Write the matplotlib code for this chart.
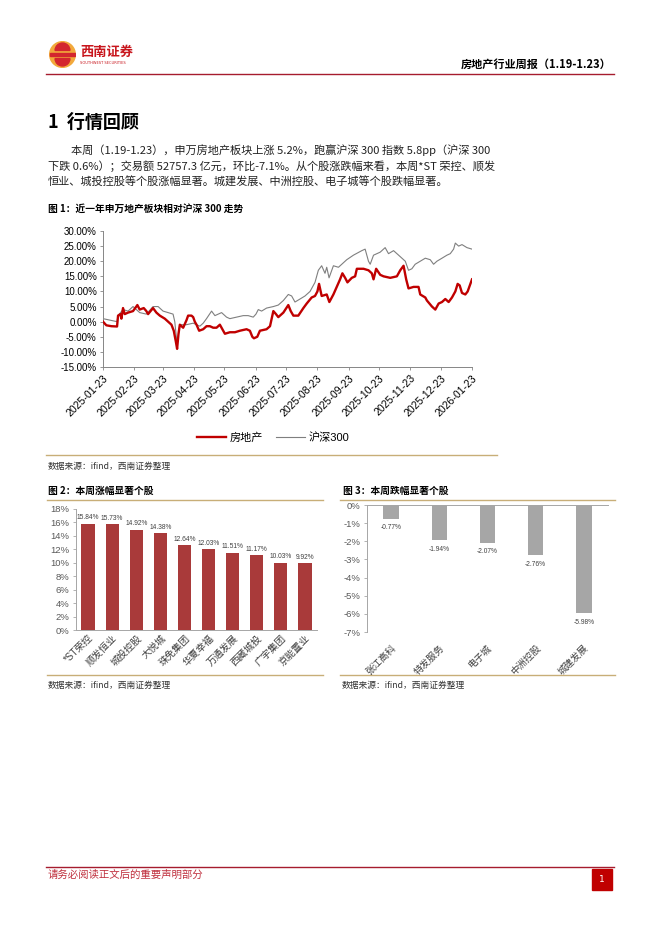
import numpy as np
import matplotlib
matplotlib.use("Agg")
import matplotlib.pyplot as plt
import matplotlib.transforms as mtrans
from matplotlib.lines import Line2D
from matplotlib.patches import Circle, Rectangle, Wedge

W, H = 662, 936

plt.rcParams['font.family'] = ['Noto Sans CJK SC', 'DejaVu Sans']
CHART_FONT = ['Liberation Sans', 'Noto Sans CJK SC']

# ---- data: figure 1 (cumulative change, %) ----
tick_dates = ['2025-01-23', '2025-02-23', '2025-03-23', '2025-04-23', '2025-05-23',
              '2025-06-23', '2025-07-23', '2025-08-23', '2025-09-23', '2025-10-23',
              '2025-11-23', '2025-12-23', '2026-01-23']

re_day = [0, 3.3, 8.3, 13.9, 14.9, 17.2, 18.2, 19.8, 21.5, 24.8, 29.7, 34.0, 36.3, 40.3,
          42.9, 44.6, 49.5, 52.8, 56.2, 61.1, 64.4, 67.7, 70.0, 72.0, 73.3, 74.7, 76.0,
          79.3, 82.6, 84.2, 87.5, 89.2, 90.8, 92.5, 95.1, 99.1, 102.4, 105.7, 109.0,
          112.3, 115.6, 118.9, 120.6, 125.5, 130.5, 135.4, 142.0, 145.3, 147.7, 149.3,
          152.6, 155.2, 161.8, 165.2, 168.5, 171.1, 173.4, 178.4, 183.3, 185.7, 188.3,
          193.2, 198.2, 201.5, 206.4, 209.7, 212.1, 213.7, 216.3, 221.3, 223.9, 227.9,
          231.2, 234.5, 236.8, 239.5, 241.8, 246.1, 249.4, 251.1, 257.7, 262.6, 265.9,
          267.6, 270.2, 274.2, 277.5, 284.1, 290.7, 294.0, 297.3, 299.9, 302.2, 307.2,
          312.1, 313.8, 318.8, 320.4, 325.4, 328.7, 332.0, 335.3, 338.6, 341.9, 345.2,
          348.5, 350.8, 352.8, 355.1, 358.4, 360.7, 365]
re_val = [0.0, -1.2, -1.5, -1.6, 2.0, 2.5, 1.0, 4.5, 2.5, 3.0, 3.5, 5.5, 4.0, 4.5,
          3.5, 2.5, 4.5, 3.0, 2.0, 1.0, 0.0, -1.0, -3.0, -6.5, -9.0, -4.0, -1.0,
          -2.0, 0.5, 2.0, 2.0, 1.5, 0.0, -1.0, -3.0, -2.5, -1.5, -1.5, -2.0,
          -2.0, -1.0, -3.0, -4.0, -3.5, -3.5, -3.0, -2.5, -3.0, -5.0, -5.5,
          -5.0, -3.0, -2.5, -1.5, 3.5, 2.5, 1.5, 3.0, 5.5, 3.5, 2.0,
          2.0, 4.5, 6.0, 8.0, 8.5, 10.0, 12.5, 8.5, 9.0, 6.5, 9.0,
          11.5, 14.0, 16.0, 14.5, 13.0, 14.5, 15.0, 17.5, 17.5, 17.0, 16.0,
          14.0, 17.5, 15.5, 15.0, 14.5, 15.0, 17.0, 18.5, 14.0, 11.0, 11.5,
          11.5, 9.0, 8.0, 7.0, 5.0, 4.0, 6.0, 6.5, 7.5, 6.5, 8.0,
          10.0, 12.5, 12.0, 9.5, 9.0, 10.0, 14.0]

hs_day = [0, 13.9, 14.9, 19.8, 24.8, 29.7, 36.3, 42.9, 49.5, 54.5, 59.4, 64.4, 69.3,
          71.0, 73.3, 76.0, 82.6, 89.2, 92.5, 95.8, 99.1, 102.4, 107.4, 110.7, 117.3,
          122.2, 125.5, 132.1, 138.7, 143.6, 148.6, 151.3, 153.6, 156.9, 161.8, 168.5,
          173.4, 178.4, 183.3, 186.6, 189.9, 194.9, 199.8, 204.8, 209.7, 213.0, 216.3,
          219.6, 221.3, 223.6, 227.9, 232.9, 236.2, 241.1, 247.7, 256.0, 259.3, 262.6,
          264.3, 267.6, 274.2, 279.1, 282.4, 287.4, 292.4, 295.7, 299.0, 302.2, 305.5,
          308.8, 313.8, 318.8, 323.7, 327.0, 330.3, 335.3, 340.2, 343.5, 346.8, 348.5,
          351.8, 355.1, 360.0, 365]
hs_val = [1.0, 0.0, 2.0, 4.0, 3.5, 5.0, 3.0, 2.5, 5.0, 5.0, 3.5, 3.0, 2.5,
          0.0, -7.5, -1.0, -1.0, -0.5, -1.0, -1.5, -0.5, 1.0, 3.5, 2.0, 3.0,
          1.5, 1.0, 1.5, 2.0, 2.0, 1.5, 2.5, 4.0, 3.5, 4.5, 5.0,
          5.5, 7.0, 9.0, 8.5, 6.5, 7.5, 8.5, 10.0, 13.0, 17.0, 18.5,
          16.0, 18.0, 14.5, 18.5, 18.0, 19.0, 20.5, 22.0, 23.5, 24.0, 20.0,
          19.0, 22.0, 23.0, 24.5, 22.5, 23.5, 22.0, 21.0, 20.0, 17.0, 17.5,
          19.0, 20.0, 21.0, 20.5, 19.0, 20.0, 21.0, 22.0, 22.5, 24.0, 26.0,
          25.0, 25.5, 24.5, 24.0]

# ---- data: figure 2 / 3 (weekly change, %) ----
up_names = ['*ST荣控', '顺发恒业', '城投控股', '大悦城', '珠免集团',
            '华夏幸福', '万通发展', '西藏城投', '广宇集团', '京能置业']
up_vals = [15.84, 15.73, 14.92, 14.38, 12.64, 12.03, 11.51, 11.17, 10.03, 9.92]
down_names = ['张江高科', '特发服务', '电子城', '中洲控股', '城建发展']
down_vals = [-0.77, -1.94, -2.07, -2.76, -5.98]

RED = '#C00000'
DARKRED = '#A61C2E'
GOLD = '#C8AE78'
BAR_RED = '#A93A3A'
BAR_GRAY = '#A6A6A6'

fig = plt.figure(figsize=(6.62, 9.36), dpi=100)


def fx(x):
    return x / W


def fy(y):
    return 1 - y / H


def ax_at(x0, y0, x1, y1):
    return fig.add_axes([fx(x0), fy(y1), (x1 - x0) / W, (y1 - y0) / H])


def txt(x, y, s, **kw):
    kw.setdefault('va', 'center')
    return fig.text(fx(x), fy(y), s, **kw)


def hline(x0, x1, y, color, lw):
    fig.add_artist(Line2D([fx(x0), fx(x1)], [fy(y), fy(y)], color=color, lw=lw))


def shift_labels(labels, dx_px):
    off = mtrans.ScaledTranslation(dx_px / 100, 0, fig.dpi_scale_trans)
    for lab in labels:
        lab.set_transform(lab.get_transform() + off)


# ---- header ----
logo = fig.add_axes([fx(49), fy(68), 27 / W, 27 / H])
logo.set_xlim(-1, 1)
logo.set_ylim(-1, 1)
logo.set_aspect('equal')
logo.axis('off')
logo.add_patch(Circle((0, 0), 0.95, color='#F2A93B'))
logo.add_patch(Wedge((0, 0.3), 0.55, 0, 180, color='#D3262E'))
logo.add_patch(Wedge((0, -0.3), 0.55, 180, 360, color='#D3262E'))
logo.add_patch(Rectangle((-0.95, -0.08), 1.9, 0.16, color='#D3262E'))
txt(80, 52, '西南证券', fontsize=9.5, color='#C8161D', fontweight='bold')
txt(80, 63, 'SOUTHWEST SECURITIES', fontsize=2.6, color='#C8161D', family='DejaVu Sans')
txt(611, 64, '房地产行业周报（1.19-1.23）', fontsize=8, fontweight='bold', ha='right')
hline(46, 614, 74, DARKRED, 1.0)

# ---- section text ----
txt(48, 122, '1  行情回顾', fontsize=13, fontweight='bold')
para = ['本周（1.19-1.23），申万房地产板块上涨 5.2%，跑赢沪深 300 指数 5.8pp（沪深 300',
        '下跌 0.6%）；交易额 52757.3 亿元，环比-7.1%。从个股涨跌幅来看，本周*ST 荣控、顺发',
        '恒业、城投控股等个股涨幅显著。城建发展、中洲控股、电子城等个股跌幅显著。']
para_x = [71, 48, 48]
para_y = [150, 166, 182]
for s, x, y in zip(para, para_x, para_y):
    txt(x, y, s, fontsize=8.05, color='#222222')

# ---- figure 1 ----
txt(48, 209, '图 1：近一年申万地产板块相对沪深 300 走势', fontsize=7, fontweight='bold')
ax1 = ax_at(103, 231, 472, 367)
tick_pos = (np.array(tick_dates, dtype='datetime64[D]') - np.datetime64(tick_dates[0])).astype(int)
ax1.plot(hs_day, hs_val, color='#7F7F7F', lw=0.8, label='沪深300', zorder=2)
ax1.plot(re_day, re_val, color=RED, lw=1.7, label='房地产', zorder=3)
ax1.set_xlim(0, tick_pos[-1])
ax1.set_ylim(-15, 30)
ax1.set_yticks(np.arange(-15, 31, 5))
ax1.set_yticklabels(['%.2f%%' % v for v in np.arange(-15, 31, 5)], family=CHART_FONT, fontsize=7)
ax1.set_xticks(tick_pos)
ax1.set_xticklabels(tick_dates, rotation=45, ha='right', va='top', rotation_mode='anchor',
                    family=CHART_FONT, fontsize=7.6)
for sp in ['top', 'right']:
    ax1.spines[sp].set_visible(False)
for sp in ['left', 'bottom']:
    ax1.spines[sp].set_color('#868686')
    ax1.spines[sp].set_linewidth(0.7)
ax1.tick_params(axis='both', direction='out', length=2.5, width=0.6, color='#868686', pad=2)
h_re = Line2D([], [], color=RED, lw=1.7)
h_hs = Line2D([], [], color='#7F7F7F', lw=0.8)
fig.legend([h_re, h_hs], ['房地产', '沪深300'], loc='center', ncol=2, frameon=False,
           bbox_to_anchor=(fx(273), fy(438)), prop={'family': CHART_FONT, 'size': 8},
           handlelength=2.6, columnspacing=1.2, handletextpad=0.3)
hline(46, 497, 455, GOLD, 1.0)
src = '数据来源：ifind，西南证券整理'
txt(48, 466, src, fontsize=6.3, style='italic', color='#333333')

# ---- figure 2 ----
txt(48, 491, '图 2：本周涨幅显著个股', fontsize=7, fontweight='bold')
txt(343, 491, '图 3：本周跌幅显著个股', fontsize=7, fontweight='bold')
hline(47, 323, 500, GOLD, 1.0)
hline(340, 615, 500, GOLD, 1.0)

ax2 = ax_at(76, 509, 317, 630)
x2 = np.arange(len(up_vals))
ax2.bar(x2, up_vals, width=0.55, color=BAR_RED)
for xi, v in zip(x2, up_vals):
    ax2.text(xi, v + 0.35, '%.2f%%' % v, ha='center', va='bottom', fontsize=4.8,
             color='#404040', family=CHART_FONT)
ax2.set_xlim(-0.5, len(up_vals) - 0.5)
ax2.set_ylim(0, 18)
ax2.set_yticks(np.arange(0, 19, 2))
ax2.set_yticklabels(['%d%%' % v for v in np.arange(0, 19, 2)], family=CHART_FONT,
                    fontsize=6.8, color='#595959')
ax2.set_xticks(x2)
ax2.set_xticklabels(up_names, rotation=45, ha='right', va='top', rotation_mode='anchor',
                    family=CHART_FONT, fontsize=7, color='#404040')
shift_labels(ax2.get_xticklabels(), 4)
for sp in ['top', 'right']:
    ax2.spines[sp].set_visible(False)
for sp in ['left', 'bottom']:
    ax2.spines[sp].set_color('#A6A6A6')
    ax2.spines[sp].set_linewidth(0.7)
ax2.tick_params(axis='y', direction='out', length=2.5, width=0.6, color='#A6A6A6', pad=2)
ax2.tick_params(axis='x', length=0, pad=2)
hline(47, 323, 675, GOLD, 1.0)
txt(48, 685, src, fontsize=6.3, style='italic', color='#333333')

# ---- figure 3 ----
ax3 = ax_at(367, 505, 608, 632)
x3 = np.arange(len(down_vals))
ax3.bar(x3, down_vals, width=0.32, color=BAR_GRAY)
for xi, v in zip(x3, down_vals):
    ax3.text(xi, v - 0.3, '%.2f%%' % v, ha='center', va='top', fontsize=4.8,
             color='#404040', family=CHART_FONT)
ax3.set_xlim(-0.5, len(down_vals) - 0.5)
ax3.set_ylim(-7, 0)
ax3.set_yticks(np.arange(-7, 1, 1))
ax3.set_yticklabels(['%d%%' % v for v in np.arange(-7, 1, 1)], family=CHART_FONT,
                    fontsize=6.8, color='#595959')
ax3.set_xticks(x3)
ax3.set_xticklabels(down_names, rotation=45, ha='right', va='top', rotation_mode='anchor',
                    family=CHART_FONT, fontsize=6.8, color='#404040')
shift_labels(ax3.get_xticklabels(), 4)
ax3.xaxis.set_ticks_position('bottom')
for sp in ['bottom', 'right']:
    ax3.spines[sp].set_visible(False)
for sp in ['left', 'top']:
    ax3.spines[sp].set_color('#A6A6A6')
    ax3.spines[sp].set_linewidth(0.7)
ax3.tick_params(axis='y', direction='out', length=2.5, width=0.6, color='#A6A6A6', pad=2)
ax3.tick_params(axis='x', length=0, pad=8)
hline(340, 615, 675, GOLD, 1.0)
txt(342, 685, src, fontsize=6.3, style='italic', color='#333333')

# ---- footer ----
hline(46, 614, 867, DARKRED, 1.0)
txt(48, 875, '请务必阅读正文后的重要声明部分', fontsize=7.5, color='#C0313F')
fig.add_artist(Rectangle((fx(592), fy(890)), 20 / W, 21 / H, color='#C00000',
                         transform=fig.transFigure))
txt(602, 879, '1', fontsize=6.5, color='white', ha='center', family='DejaVu Sans')

fig.savefig('out.png', dpi=100)
